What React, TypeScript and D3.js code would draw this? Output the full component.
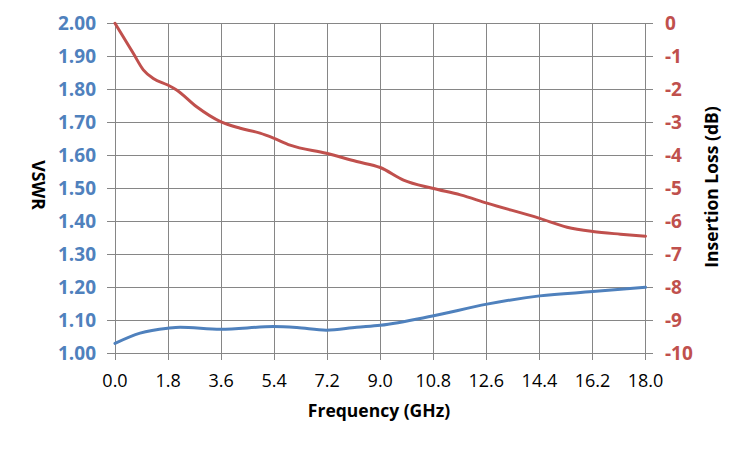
import * as d3 from 'd3'

// x ticks (GHz)
const freqTicks = [0, 1.8, 3.6, 5.4, 7.2, 9.0, 10.8, 12.6, 14.4, 16.2, 18.0]
const vswrTicks = [1.0, 1.1, 1.2, 1.3, 1.4, 1.5, 1.6, 1.7, 1.8, 1.9, 2.0]
const lossTicks = [0, -1, -2, -3, -4, -5, -6, -7, -8, -9, -10]

// VSWR trace
const vswrFreq = [0, 0.85, 1.79, 2.21, 3.58, 5.38, 6.17, 7.17, 8.2, 9.0, 10.77, 12.62, 14.41, 16.21, 18.0]
const vswrVals = [1.03, 1.061, 1.076, 1.079, 1.073, 1.081, 1.078, 1.07, 1.079, 1.085, 1.113, 1.149, 1.174, 1.187, 1.2]

// insertion loss trace (dB)
const lossFreq = [0, 0.62, 0.96, 1.3, 1.79, 2.09, 2.77, 3.58, 4.25, 4.92, 5.38, 5.94, 7.17, 8.2, 9.0, 9.79, 10.77, 11.72, 12.62, 14.41, 15.34, 16.21, 17.15, 18.0]
const lossVals = [0, -0.91, -1.41, -1.67, -1.87, -2.02, -2.53, -2.98, -3.18, -3.33, -3.48, -3.69, -3.94, -4.19, -4.37, -4.75, -5.0, -5.2, -5.45, -5.91, -6.18, -6.31, -6.39, -6.45]

const BLUE = '#4F81BD'
const RED = '#C0504D'
const GRID = '#868686'
const FONT = '"Open Sans", "DejaVu Sans", sans-serif'

export default function App() {
  const width = 750
  const height = 450
  const left = 115
  const right = 645.5
  const top = 23.3
  const bottom = 353.3

  const x = d3.scaleLinear().domain([0, 18]).range([left, right])
  const yL = d3.scaleLinear().domain([1, 2]).range([bottom, top])
  const yR = d3.scaleLinear().domain([-10, 0]).range([bottom, top])

  const vswrLine = d3.line<number>()
    .x((_, i) => x(vswrFreq[i]))
    .y(d => yL(d))
    .curve(d3.curveMonotoneX)
  const lossLine = d3.line<number>()
    .x((_, i) => x(lossFreq[i]))
    .y(d => yR(d))
    .curve(d3.curveMonotoneX)

  return (
    <svg width={width} height={height} style={{ position: 'absolute', left: 0, top: 0, background: '#fff' }}
      fontFamily={FONT}>
      {/* vertical grid + bottom ticks */}
      {freqTicks.map(t => (
        <line key={'vx' + t} x1={x(t)} x2={x(t)} y1={top} y2={bottom + 7}
          stroke={GRID} strokeWidth={1} shapeRendering="crispEdges" />
      ))}
      {/* horizontal grid + side ticks */}
      {vswrTicks.map(t => (
        <line key={'hy' + t} x1={left - 8} x2={right + 7} y1={yL(t)} y2={yL(t)}
          stroke={GRID} strokeWidth={1} shapeRendering="crispEdges" />
      ))}

      <path d={vswrLine(vswrVals) ?? ''} fill="none" stroke={BLUE} strokeWidth={3} strokeLinecap="round" />
      <path d={lossLine(lossVals) ?? ''} fill="none" stroke={RED} strokeWidth={3} strokeLinecap="round" />

      {vswrTicks.map(t => (
        <text key={'ly' + t} x={96} y={yL(t)} dy="0.36em" textAnchor="end"
          fill={BLUE} fontWeight="bold" fontSize={19}>{t.toFixed(2)}</text>
      ))}
      {lossTicks.map(t => (
        <text key={'ry' + t} x={665} y={yR(t)} dy="0.36em" textAnchor="start"
          fill={RED} fontWeight="bold" fontSize={19}>{t}</text>
      ))}
      {freqTicks.map(t => (
        <text key={'bx' + t} x={x(t)} y={387} textAnchor="middle"
          fill="#000" fontSize={18}>{t.toFixed(1)}</text>
      ))}

      <text x={379} y={417} textAnchor="middle" fontWeight="bold" fontSize={17.5} fill="#000">Frequency (GHz)</text>
      <text transform={`translate(38,185) rotate(90)`} textAnchor="middle" dy="0.35em"
        fontWeight="bold" fontSize={17.5} fill="#000">VSWR</text>
      <text transform={`translate(712,187) rotate(-90)`} textAnchor="middle" dy="0.35em"
        fontWeight="bold" fontSize={17.5} fill="#000">Insertion Loss (dB)</text>
    </svg>
  )
}
